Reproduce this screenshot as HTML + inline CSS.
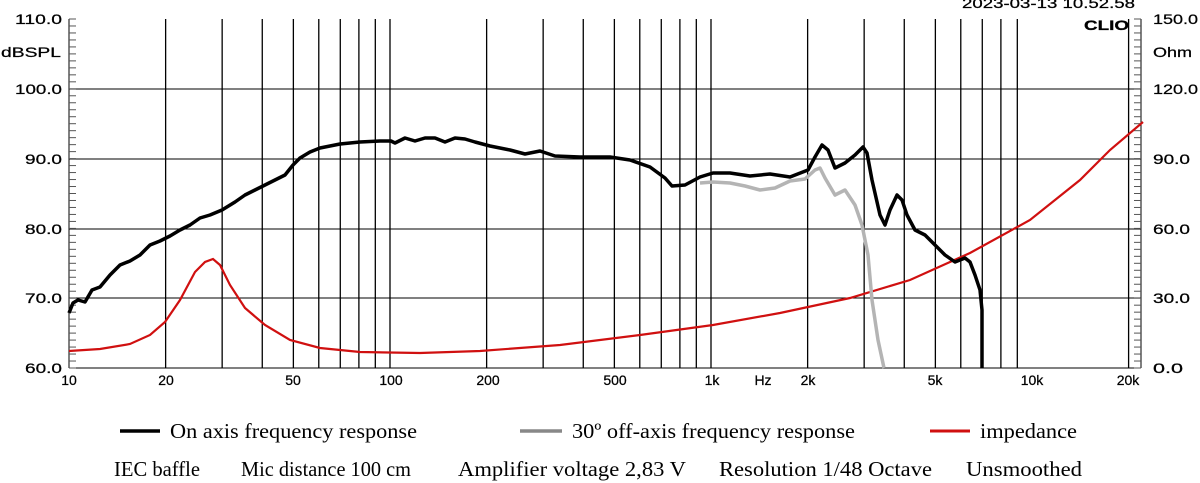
<!DOCTYPE html>
<html><head><meta charset="utf-8"><style>
body{margin:0;background:#fff;width:1200px;height:483px;overflow:hidden}
svg{display:block}
.a{font-family:"Liberation Sans",sans-serif;font-size:14px;fill:#000;stroke:#000;stroke-width:0.25}
.s{font-family:"Liberation Serif",serif;font-size:21px;fill:#000}
</style></head><body>
<svg width="1200" height="483" viewBox="0 0 1200 483">
<g id="grid" stroke="#000" stroke-width="1.3"></g>
<g stroke="#000" stroke-width="1">
<line x1="69" y1="19" x2="69" y2="368"/><line x1="1141" y1="19" x2="1141" y2="368"/>
<line x1="69" y1="368" x2="1141" y2="368"/>
<line x1="69" y1="89" x2="1141" y2="89"/><line x1="69" y1="159" x2="1141" y2="159"/>
<line x1="69" y1="229" x2="1141" y2="229"/><line x1="69" y1="298" x2="1141" y2="298"/>
</g>
<g id="ticks" stroke="#555" stroke-width="1"></g>
<g class="a">
<text x="15" y="24" textLength="47" lengthAdjust="spacingAndGlyphs">110.0</text>
<text x="1" y="57" textLength="60" lengthAdjust="spacingAndGlyphs">dBSPL</text>
<text x="15" y="94" textLength="47" lengthAdjust="spacingAndGlyphs">100.0</text>
<text x="25" y="164" textLength="37" lengthAdjust="spacingAndGlyphs">90.0</text>
<text x="25" y="234" textLength="37" lengthAdjust="spacingAndGlyphs">80.0</text>
<text x="25" y="303" textLength="37" lengthAdjust="spacingAndGlyphs">70.0</text>
<text x="25" y="373" textLength="37" lengthAdjust="spacingAndGlyphs">60.0</text>
<text x="1153" y="24" textLength="45" lengthAdjust="spacingAndGlyphs">150.0</text>
<text x="1153" y="57" textLength="39" lengthAdjust="spacingAndGlyphs">Ohm</text>
<text x="1153" y="94" textLength="45" lengthAdjust="spacingAndGlyphs">120.0</text>
<text x="1153" y="164" textLength="37" lengthAdjust="spacingAndGlyphs">90.0</text>
<text x="1153" y="234" textLength="37" lengthAdjust="spacingAndGlyphs">60.0</text>
<text x="1153" y="303" textLength="37" lengthAdjust="spacingAndGlyphs">30.0</text>
<text x="1153" y="373" textLength="30" lengthAdjust="spacingAndGlyphs">0.0</text>
<text x="962" y="8" textLength="173" lengthAdjust="spacingAndGlyphs">2023-03-13 10.52.58</text>
<text x="1084" y="30" font-weight="bold" textLength="45" lengthAdjust="spacingAndGlyphs">CLIO</text>
</g>
<g class="a" text-anchor="middle" font-size="15">
<text x="69" y="385">10</text><text x="166" y="385">20</text><text x="293" y="385">50</text><text x="391" y="385">100</text><text x="488" y="385">200</text><text x="615" y="385">500</text><text x="712" y="385">1k</text><text x="763" y="385">Hz</text><text x="808" y="385">2k</text><text x="935" y="385">5k</text><text x="1032" y="385">10k</text><text x="1128" y="385">20k</text>
</g>
<polyline fill="none" stroke="#d01010" stroke-width="2.2" points="69,351 100,349 130,344 150,335 165,322 180,300 195,272 205,262 213,259 220,265 230,285 245,308 265,325 290,340 320,348 360,352 420,353 480,351 560,345 640,335 713,325 780,313 850,298 910,280 970,253 1030,220 1080,180 1110,150 1143,122"/>
<polyline fill="none" stroke="#b4b4b4" stroke-width="3.5" stroke-linejoin="round" points="700,183 713,182 730,183 745,186 760,190 775,188 790,181 805,179 815,170 820,168 825,178 835,195 845,190 855,205 862,225 868,255 872,300 878,340 884,368"/>
<polyline fill="none" stroke="#000" stroke-width="3.5" stroke-linejoin="round" points="69,313 73,303 78,300 85,302 92,290 100,287 110,275 120,265 130,261 140,255 150,245 160,241 170,236 180,230 190,225 200,218 210,215 222,210 235,202 245,195 255,190 265,185 275,180 285,175 293,165 300,158 310,152 320,148 340,144 360,142 380,141 391,141 395,143 405,138 415,141 425,138 435,138 445,142 455,138 465,139 475,142 490,146 510,150 525,154 540,151 555,156 580,157 610,157 630,160 650,167 665,178 672,186 685,185 700,177 713,173 730,173 750,176 770,174 790,177 808,170 815,157 822,145 828,150 835,168 845,163 855,155 863,147 867,153 872,180 880,215 885,225 890,210 897,195 902,200 907,215 915,230 925,235 935,245 945,255 955,262 965,258 970,262 975,275 980,290 982,310 982,368"/>
<line x1="120" y1="431" x2="160" y2="431" stroke="#000" stroke-width="3.5"/>
<line x1="520" y1="431" x2="562" y2="431" stroke="#888" stroke-width="3.5"/>
<line x1="930" y1="431" x2="970" y2="431" stroke="#d01010" stroke-width="3"/>
<text class="s" x="170" y="438" textLength="247" lengthAdjust="spacingAndGlyphs">On axis frequency response</text>
<text class="s" x="572" y="438" textLength="283" lengthAdjust="spacingAndGlyphs">30º off-axis frequency response</text>
<text class="s" x="980" y="438" textLength="97" lengthAdjust="spacingAndGlyphs">impedance</text>
<text class="s" x="114" y="476" textLength="86" lengthAdjust="spacingAndGlyphs">IEC baffle</text>
<text class="s" x="241" y="476" textLength="170" lengthAdjust="spacingAndGlyphs">Mic distance 100 cm</text>
<text class="s" x="458" y="476" textLength="228" lengthAdjust="spacingAndGlyphs">Amplifier voltage 2,83 V</text>
<text class="s" x="719" y="476" textLength="213" lengthAdjust="spacingAndGlyphs">Resolution 1/48 Octave</text>
<text class="s" x="966" y="476" textLength="116" lengthAdjust="spacingAndGlyphs">Unsmoothed</text>
</svg>
<script>
var g=document.getElementById('grid'),t=document.getElementById('ticks'),ns='http://www.w3.org/2000/svg';
function L(p,x1,y1,x2,y2){var l=document.createElementNS(ns,'line');l.setAttribute('x1',x1);l.setAttribute('y1',y1);l.setAttribute('x2',x2);l.setAttribute('y2',y2);p.appendChild(l);}
[10,100,1000].forEach(function(d){for(var m=1;m<10;m++){var f=d*m;if(f<=10)continue;var x=69+321*Math.log10(f/10);L(g,x,19,x,368);}});
L(g,1128.6,19,1128.6,368);
for(var i=0;i<=50;i++){var y=19+i*6.98;L(t,69,y,76,y);L(t,1134,y,1141,y);}
</script>
</body></html>
